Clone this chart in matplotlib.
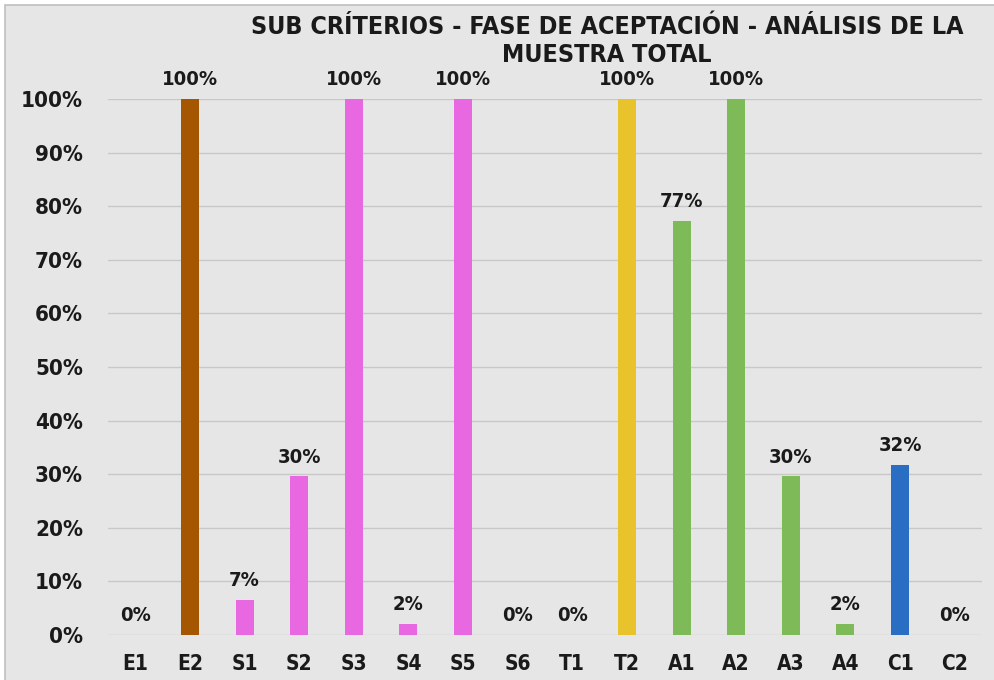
import matplotlib.pyplot as plt
import matplotlib.patches as mpatches
from matplotlib.ticker import FuncFormatter

categories = ['E1', 'E2', 'S1', 'S2', 'S3', 'S4', 'S5', 'S6',
              'T1', 'T2', 'A1', 'A2', 'A3', 'A4', 'C1', 'C2']
values = [0, 100, 6.6, 29.6, 100, 2.1, 100, 0,
          0, 100, 77.3, 100, 29.6, 2.1, 31.8, 0]
bar_colors = ['#A45600', '#A45600', '#E868E2', '#E868E2', '#E868E2', '#E868E2',
              '#E868E2', '#E868E2', '#E8C32C', '#E8C32C', '#7FBA58', '#7FBA58',
              '#7FBA58', '#7FBA58', '#2A6EC4', '#2A6EC4']
title = 'SUB CRÍTERIOS - FASE DE ACEPTACIÓN - ANÁLISIS DE LA\nMUESTRA TOTAL'

plt.rcParams['font.family'] = ['DejaVu Sans']
plt.rcParams['font.stretch'] = 'condensed'
plt.rcParams['font.weight'] = 'bold'

bg = '#E6E6E6'
fig = plt.figure(figsize=(9.95, 6.8), dpi=100, facecolor='white')
# chart area with thin border
fig.patches.append(mpatches.Rectangle((5 / 995, -0.01), 1.0, 1 - 5 / 680 + 0.01,
                                      transform=fig.transFigure, facecolor=bg,
                                      edgecolor='#BFBFBF', lw=1.2, zorder=-10))

ax = fig.add_axes([108 / 995, 1 - 635 / 680, 874 / 995, 536 / 680])
ax.set_facecolor(bg)
x = range(len(categories))
bars = ax.bar(x, values, width=0.33, color=bar_colors, zorder=3)

ax.set_xlim(-0.5, len(categories) - 0.5)
ax.set_ylim(0, 100)
ax.set_yticks(range(0, 101, 10))
ax.yaxis.set_major_formatter(FuncFormatter(lambda v, p: f'{v:.0f}%'))
ax.set_xticks(list(x))
ax.set_xticklabels(categories)
ax.grid(axis='y', color='#C8C8C8', lw=1, zorder=0)
for s in ax.spines.values():
    s.set_visible(False)
ax.tick_params(length=0, colors='#1a1a1a')
ax.tick_params(axis='x', pad=14, labelsize=15)
ax.tick_params(axis='y', pad=18, labelsize=16)

for b, v in zip(bars, values):
    ax.annotate(f'{v:.0f}%', (b.get_x() + b.get_width() / 2, v),
                xytext=(0, 7), textcoords='offset points', ha='center',
                va='bottom', fontsize=14.5, fontweight='bold', color='#1a1a1a',
                annotation_clip=False)

fig.text(607 / 995, 1 - 41 / 680, title, ha='center', va='center',
         fontsize=18, fontweight='bold', color='#1a1a1a', linespacing=1.2)

fig.savefig('out.png', dpi=100, facecolor='white')
